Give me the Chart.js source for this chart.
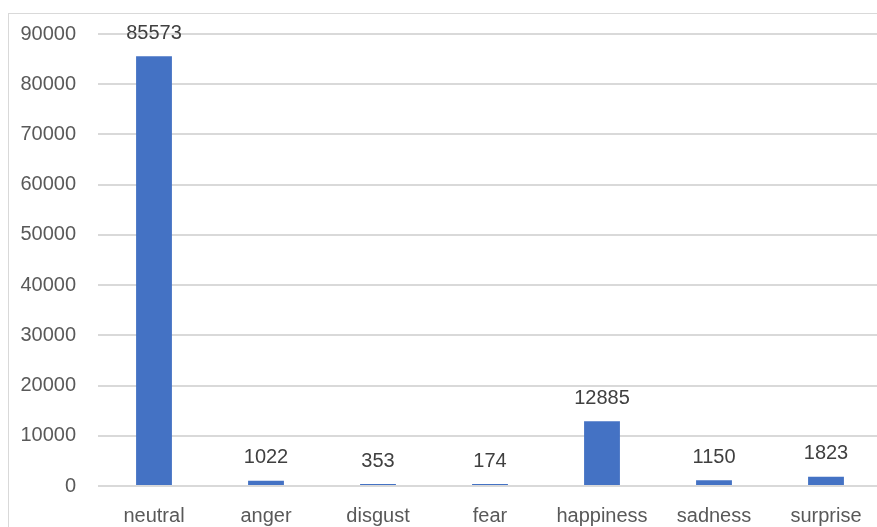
<!DOCTYPE html>
<html>
<head>
<meta charset="utf-8">
<script src="https://cdn.jsdelivr.net/npm/chart.js@4"></script>
<style>
  html, body { margin: 0; padding: 0; background: #fff; overflow: hidden; }
  #wrap { position: absolute; left: 0; top: 0; width: 890px; height: 545px; }
</style>
</head>
<body>
<div id="wrap"><canvas id="mycanvas"></canvas></div>
<script>
// emotion classes and how many samples each has
var emotions = ['neutral', 'anger', 'disgust', 'fear', 'happiness', 'sadness', 'surprise'];
var counts = [85573, 1022, 353, 174, 12885, 1150, 1823];
var yTicks = [0, 10000, 20000, 30000, 40000, 50000, 60000, 70000, 80000, 90000];

var fontFam = '"Liberation Sans", Arial, sans-serif';

// outer frame like the excel chart area
var framePlugin = {
  id: 'frame',
  beforeDraw: function(chart) {
    var c = chart.ctx;
    c.save();
    c.strokeStyle = '#d9d9d9';
    c.lineWidth = 1;
    c.strokeRect(8.5, 13.5, chart.width + 10, chart.height + 10);
    c.restore();
  }
};

// value labels over the bars
var labelPlugin = {
  id: 'valueLabels',
  afterDatasetsDraw: function(chart) {
    var c = chart.ctx;
    var meta = chart.getDatasetMeta(0);
    c.save();
    c.fillStyle = '#404040';
    c.font = '20px ' + fontFam;
    c.textAlign = 'center';
    c.textBaseline = 'middle';
    meta.data.forEach(function(bar, i) {
      c.fillText(String(counts[i]), bar.x, bar.y - 23);
    });
    c.restore();
  }
};

var ctx = document.getElementById('mycanvas');
new Chart(ctx, {
  type: 'bar',
  data: {
    labels: emotions,
    datasets: [{
      data: counts,
      backgroundColor: '#4472C4',
      borderWidth: 0,
      minBarLength: 2,
      barPercentage: 0.32,
      categoryPercentage: 1
    }]
  },
  options: {
    responsive: true,
    maintainAspectRatio: false,
    animation: false,
    layout: { padding: { left: 0, right: 8, top: 33, bottom: 0 } },
    plugins: { legend: { display: false }, tooltip: { enabled: false } },
    scales: {
      x: {
        grid: { display: false },
        border: { display: false },
        ticks: { color: '#595959', font: { size: 20, family: fontFam }, padding: 10, maxRotation: 0 },
        afterFit: function(s) { s.height = 59; }
      },
      y: {
        min: 0,
        max: 90000,
        afterBuildTicks: function(s) { s.ticks = yTicks.map(function(v) { return { value: v }; }); },
        grid: { color: '#d9d9d9', lineWidth: 2, drawTicks: false },
        border: { display: false },
        ticks: {
          color: '#595959',
          font: { size: 20, family: fontFam },
          padding: 22,
          callback: function(v) { return String(v); }
        },
        afterFit: function(s) { s.width = 98; }
      }
    }
  },
  plugins: [framePlugin, labelPlugin]
});
</script>
</body>
</html>
